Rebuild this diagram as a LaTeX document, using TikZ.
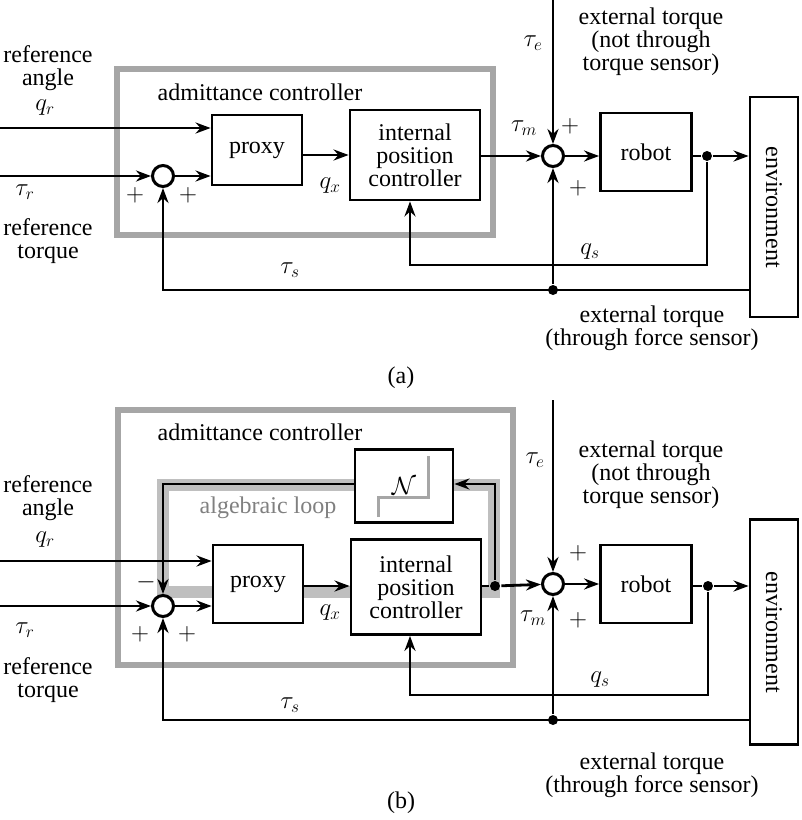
\documentclass[tikz,border=0pt]{standalone}
\usepackage{fontspec}
\setmainfont{Liberation Serif}
\usetikzlibrary{arrows.meta,positioning}

\begin{document}
\begin{tikzpicture}[x=1pt,y=-1pt,line width=2.8pt,>={Stealth[length=15pt,width=11pt]},
  font=\fontsize{24}{26}\selectfont]
  \tikzstyle{block}=[draw,fill=white,align=center,inner sep=0pt]
  \tikzstyle{sumnode}=[draw,circle,fill=white,minimum size=21pt,inner sep=0pt,line width=3pt]
  \tikzstyle{frame}=[draw=gray!70,line width=5.5pt]
  \tikzstyle{dot}=[circle,fill,inner sep=0pt,minimum size=10pt]
  \tikzstyle{txt}=[align=center,inner sep=0pt]
  \useasboundingbox (0,0) rectangle (802,820);

  % ---------- (a)
  \draw[frame] (117,69) rectangle (493,235);
  \node[txt] (adma) at (260,92) {admittance controller};
  \node[sumnode] (s1a) at (163,176) {};
  \node[block,minimum width=90pt,minimum height=70pt] (proxya) at (257,150) {proxy};
  \node[block,minimum width=130pt,minimum height=90pt] (ctrla) at (415,155) {internal\\[-3pt]position\\[-3pt]controller};
  \node[sumnode] (s2a) at (553,156) {};
  \node[block,minimum width=91pt,minimum height=78pt] (robota) at (646,152) {robot};
  \node[block,minimum width=48pt,minimum height=220pt] (enva) at (774,207) {\rotatebox{-90}{environment}};
  \node[dot] (da) at (707,156) {};
  \node[dot] (ta) at (553,290) {};
  \coordinate (qra) at (0,128);
  \coordinate (tra) at (0,176);
  \coordinate (tea) at (553,0);
  \draw[->] (qra) -- (qra -| proxya.west);
  \draw[->] (tra) -- (s1a);
  \draw[->] (s1a) -- (s1a -| proxya.west);
  \draw[->] (proxya.east |- ctrla) -- (ctrla.west |- 0,155);
  \draw[->] (ctrla.east |- s2a) -- (s2a);
  \draw[->] (tea) -- (s2a);
  \draw[->] (s2a) -- (robota.west |- s2a);
  \draw (robota.east |- s2a) -- (da);
  \draw[->] (da) -- (enva.west |- da);
  \draw[->] (da) |- (410,265) -- (ctrla.south -| 410,0);
  \draw[->] (enva.west |- ta) -- (163,290) -- (s1a);
  \draw[->] (ta) -- (s2a);
  \node[txt] at (48,54) {reference};
  \node[txt] at (48,80) {angle};
  \node[txt] at (45,108) {$q_r$};
  \node[txt] at (25,192) {$\tau_r$};
  \node[txt] at (48,227) {reference};
  \node[txt] at (48,254) {torque};
  \node[txt] at (135,195) {$+$};
  \node[txt] at (188,195) {$+$};
  \node[txt] at (330,186) {$q_x$};
  \node[txt] at (524,128) {$\tau_m$};
  \node[txt] at (570,126) {$+$};
  \node[txt] at (578,188) {$+$};
  \node[txt] at (533,43) {$\tau_e$};
  \node[txt] at (651,42) {external torque\\[-3pt](not through\\[-3pt]torque sensor)};
  \node[txt] at (590,252) {$q_s$};
  \node[txt] at (290,270) {$\tau_s$};
  \node[txt] at (652,328) {external torque\\[-3pt](through force sensor)};
  \node[txt] at (401,378) {(a)};

  % ---------- (b)
  \draw[frame] (118,410) rectangle (513,665);
  \draw[draw=gray!50,line width=12pt] (163,605) -- (163,485) -- (494,485) -- (494,592) -- (163,592);
  \node[txt] at (260,432) {admittance controller};
  \node[txt,text=gray] at (268,508) {algebraic loop};
  \node[block,minimum width=98pt,minimum height=73pt] (nb) at (404,486) {$\mathcal{N}$};
  \draw[gray!70,line width=3pt] (378,517) |- (428,497) -- (428,456);
  \node[sumnode] (s1b) at (163,606) {};
  \node[block,minimum width=90pt,minimum height=78pt] (proxyb) at (258,584) {proxy};
  \node[block,minimum width=130pt,minimum height=95pt] (ctrlb) at (416,587) {internal\\[-3pt]position\\[-3pt]controller};
  \node[sumnode] (s2b) at (553,584) {};
  \node[block,minimum width=91pt,minimum height=78pt] (robotb) at (646,584) {robot};
  \node[block,minimum width=48pt,minimum height=225pt] (envb) at (774,632) {\rotatebox{-90}{environment}};
  \node[dot] (db) at (708,586) {};
  \node[dot] (cb) at (495,586) {};
  \node[dot] (tb) at (553,720) {};
  \coordinate (qrb) at (0,561);
  \coordinate (trb) at (0,606);
  \coordinate (teb) at (553,400);
  \draw[->] (qrb) -- (qrb -| proxyb.west);
  \draw[->] (trb) -- (s1b);
  \draw[->] (s1b) -- (s1b -| proxyb.west);
  \draw[->] (proxyb.east |- 0,586) -- (ctrlb.west |- 0,586);
  \draw (ctrlb.east |- cb) -- (cb);
  \draw[->] (cb) -- (s2b);
  \draw[->] (cb) |- (nb.east |- 0,484);
  \draw[->] (nb.west |- 0,484) -| (s1b);
  \draw[->] (teb) -- (s2b);
  \draw[->] (s2b) -- (robotb.west |- s2b);
  \draw (robotb.east |- db) -- (db);
  \draw[->] (db) -- (envb.west |- db);
  \draw[->] (db) |- (410,695) -- (ctrlb.south -| 410,0);
  \draw[->] (envb.west |- tb) -- (163,720) -- (s1b);
  \draw[->] (tb) -- (s2b);
  \node[txt] at (48,484) {reference};
  \node[txt] at (48,510) {angle};
  \node[txt] at (45,540) {$q_r$};
  \node[txt] at (25,630) {$\tau_r$};
  \node[txt] at (48,666) {reference};
  \node[txt] at (48,693) {torque};
  \node[txt] at (146,582) {$-$};
  \node[txt] at (140,634) {$+$};
  \node[txt] at (187,634) {$+$};
  \node[txt] at (330,613) {$q_x$};
  \node[txt] at (533,618) {$\tau_m$};
  \node[txt] at (578,553) {$+$};
  \node[txt] at (578,620) {$+$};
  \node[txt] at (535,460) {$\tau_e$};
  \node[txt] at (651,475) {external torque\\[-3pt](not through\\[-3pt]torque sensor)};
  \node[txt] at (600,680) {$q_s$};
  \node[txt] at (290,705) {$\tau_s$};
  \node[txt] at (652,775) {external torque\\[-3pt](through force sensor)};
  \node[txt] at (401,803) {(b)};
\end{tikzpicture}
\end{document}
